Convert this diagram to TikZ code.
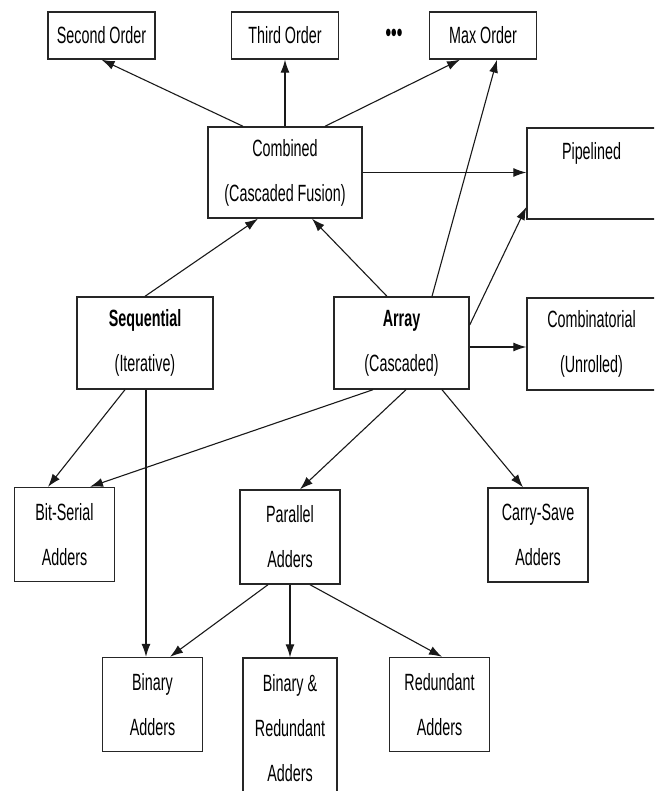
\documentclass[tikz,border=0pt]{standalone}
\usepackage{fontspec}
\setmainfont{Liberation Sans}[FakeStretch=0.61]
\usetikzlibrary{arrows.meta}
\begin{document}
\begin{tikzpicture}[
    x=1pt, y=-1pt,
    block/.style={rectangle, draw=black!85, line width=1.4pt, inner sep=0pt,
        align=center, font=\fontsize{23.5}{45}\selectfont},
    order/.style={block, minimum width=107, minimum height=47},
    adder/.style={block, minimum width=100, minimum height=94},
    link/.style={draw=black!90, line width=1.1pt, -{Latex[length=13pt,width=9pt]}}
]
\useasboundingbox (0,0) rectangle (654,791);
\clip (0,0) rectangle (654,791);

\node (SecondOrder) [order] at (101.5,35.5) {Second Order};
\node (ThirdOrder) [order] at (285,35.5) {Third Order};
\node (Dots) [font=\fontsize{26}{26}\selectfont\bfseries] at (394,35) {\textbullet\textbullet\textbullet};
\node (MaxOrder) [order] at (483,35.5) {Max Order};
\node (Combined) [block, minimum width=154, minimum height=91] at (285,172.5) {Combined\\(Cascaded Fusion)};
\node (Pipelined) [block, minimum width=129, minimum height=91] at (591.5,173.5) {Pipelined\\\mbox{}};
\node (Sequential) [block, minimum width=136, minimum height=92] at (145,343) {\textbf{Sequential}\\(Iterative)};
\node (Array) [block, minimum width=135, minimum height=92] at (401.5,343) {\textbf{Array}\\(Cascaded)};
\node (Combinatorial) [block, minimum width=129, minimum height=92] at (591.5,344) {Combinatorial\\(Unrolled)};
\node (BitSerial) [adder] at (64.5,534.5) {Bit-Serial\\Adders};
\node (Parallel) [adder] at (290,537) {Parallel\\Adders};
\node (CarrySave) [adder] at (538,535) {Carry-Save\\Adders};
\node (BinaryAdders) [adder] at (152.5,704.5) {Binary\\Adders};
\node (BinaryRedundant) [block, minimum width=94, minimum height=140] at (290,728) {Binary \&\\Redundant\\Adders};
\node (RedundantAdders) [adder] at (439.5,704.5) {Redundant\\Adders};

\draw [link] ([xshift=-42pt]Combined.north) -- (SecondOrder.south);
\draw [link] (Combined.north) -- (ThirdOrder.south);
\draw [link] ([xshift=40pt]Combined.north) -- ([xshift=-23pt]MaxOrder.south);
\draw [link] ([xshift=30.5pt]Array.north) -- ([xshift=14pt]MaxOrder.south);
\draw [link] (Combined.east) -- (Combined.east -| Pipelined.west);
\draw [link] ([yshift=18pt]Array.east) -- ([yshift=-33.5pt]Pipelined.west);
\draw [link] ([yshift=-4pt]Array.east) -- ([yshift=-4pt]Array.east -| Combinatorial.west);
\draw [link] (Sequential.north) -- ([xshift=-27pt]Combined.south);
\draw [link] ([xshift=-14.5pt]Array.north) -- ([xshift=27pt]Combined.south);
\draw [link] ([xshift=-20pt]Sequential.south) -- ([xshift=-16.5pt]BitSerial.north);
\draw [link] ([xshift=1pt]Sequential.south) -- ([xshift=1pt]Sequential.south |- BinaryAdders.north);
\draw [link] ([xshift=-28.5pt]Array.south) -- ([xshift=25.5pt]BitSerial.north);
\draw [link] ([xshift=4.5pt]Array.south) -- ([xshift=10pt]Parallel.north);
\draw [link] ([xshift=40.5pt]Array.south) -- ([xshift=-15pt]CarrySave.north);
\draw [link] ([xshift=-22pt]Parallel.south) -- ([xshift=17.5pt]BinaryAdders.north);
\draw [link] (Parallel.south) -- (BinaryRedundant.north);
\draw [link] ([xshift=20pt]Parallel.south) -- ([xshift=2.5pt]RedundantAdders.north);
\end{tikzpicture}
\end{document}
